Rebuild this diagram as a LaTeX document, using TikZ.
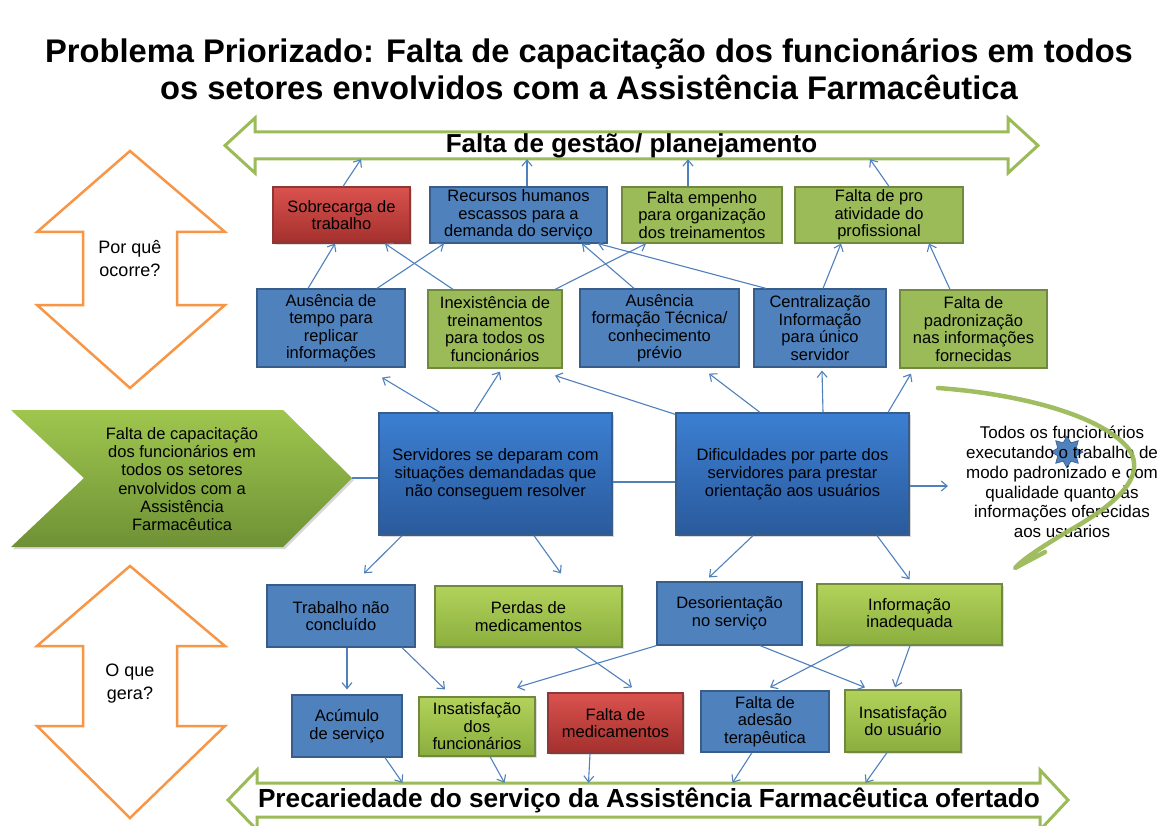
\documentclass[tikz,border=0pt]{standalone}
\usepackage{fontspec}
\setmainfont{Liberation Sans}
\usetikzlibrary{arrows.meta,calc,shadows,shapes.geometric}
\definecolor{ofblue}{HTML}{4F81BD}
\definecolor{ofbluedk}{HTML}{385D8A}
\definecolor{ofgreen}{HTML}{9BBB59}
\definecolor{ofgreendk}{HTML}{71893F}
\definecolor{ofred}{HTML}{C0504D}
\definecolor{ofreddk}{HTML}{8C3836}
\definecolor{midtop}{HTML}{3C7FD2}
\definecolor{midbot}{HTML}{2A5A9C}
\definecolor{grtop}{HTML}{B2D25A}
\definecolor{grbot}{HTML}{8AAE3E}
\definecolor{rdtop}{HTML}{DA524E}
\definecolor{rdbot}{HTML}{A3302D}
\definecolor{chevtop}{HTML}{9FC64E}
\definecolor{chevbot}{HTML}{6F9136}
\definecolor{ofor}{HTML}{F79646}
\definecolor{lineblue}{HTML}{4F81BD}
\tikzset{
  box/.style={draw, line width=1.2pt, align=center, inner sep=1pt,
    font=\fontsize{16.5}{17.5}\selectfont},
  bluebox/.style={box, fill=ofblue, draw=ofbluedk},
  greenbox/.style={box, fill=ofgreen, draw=ofgreendk},
  greengrad/.style={box, top color=grtop, bottom color=grbot, draw=ofgreendk,
    drop shadow={opacity=0.25,shadow xshift=2pt,shadow yshift=-2pt}},
  redgrad/.style={box, top color=rdtop, bottom color=rdbot, draw=ofreddk,
    drop shadow={opacity=0.25,shadow xshift=2pt,shadow yshift=-2pt}},
  midbox/.style={box, top color=midtop, bottom color=midbot, draw=ofbluedk,
    drop shadow={opacity=0.3,shadow xshift=2pt,shadow yshift=-2pt},
    font=\fontsize{16.5}{18}\selectfont},
  conn/.style={draw=lineblue, line width=1.1pt, -{Straight Barb[length=6pt,width=10pt]}},
  link/.style={draw=lineblue, line width=1.1pt},
  bigarrow/.style={draw=ofgreen, line width=3pt, fill=white},
  orarrow/.style={draw=ofor, line width=2.5pt, fill=white},
}
\begin{document}
\begin{tikzpicture}[x=1pt,y=-1pt]
\useasboundingbox (0,0) rectangle (1166,826);
\fill[white] (0,0) rectangle (1166,826);

% title
\node[font=\fontsize{32.7}{37}\selectfont\bfseries, align=center] (title) at (589,69)
  {Problema Priorizado: Falta de capacitação dos funcionários em todos\\os setores envolvidos com a Assistência Farmacêutica};

% top double arrow
\draw[bigarrow] (225,145.5) -- (255,118) -- (255,132) -- (1008,132) -- (1008,118) -- (1038,145.5)
  -- (1008,173) -- (1008,159) -- (255,159) -- (255,173) -- cycle;
\node[minimum width=753pt, minimum height=27pt, inner sep=0pt,
  font=\fontsize{26}{28}\selectfont\bfseries] (gestao) at (631.5,145.5) {Falta de gestão/ planejamento};

% bottom double arrow
\draw[bigarrow] (228,800) -- (257,770) -- (257,783) -- (1040,783) -- (1040,770) -- (1068,800)
  -- (1040,830) -- (1040,817) -- (257,817) -- (257,830) -- cycle;
\node[minimum width=783pt, minimum height=34pt, inner sep=0pt,
  font=\fontsize{26.2}{28}\selectfont\bfseries] (prec) at (649,800) {Precariedade do serviço da Assistência Farmacêutica ofertado};

% orange arrows
\draw[orarrow] (130,151) -- (225,232) -- (177,232) -- (177,305) -- (225,305) -- (130,388)
  -- (37,305) -- (83,305) -- (83,232) -- (37,232) -- cycle;
\node[align=center, font=\fontsize{18}{23}\selectfont] (porque) at (130,259) {Por quê\\ocorre?};
\draw[orarrow] (130,566) -- (225,646) -- (177,646) -- (177,726) -- (225,726) -- (130,818)
  -- (37,726) -- (83,726) -- (83,646) -- (37,646) -- cycle;
\node[align=center, font=\fontsize{18}{23}\selectfont] (oque) at (130,684) {O que\\gera?};

% chevron
\path[top color=chevtop, bottom color=chevbot, drop shadow={opacity=0.3,shadow xshift=2pt,shadow yshift=-2pt}]
  (11,410) -- (283,410) -- (352,478) -- (283,547) -- (11,547) -- (84,478) -- cycle;
\node[align=center, font=\fontsize{16.5}{18.3}\selectfont, inner sep=0pt] (chev) at (182,479)
  {Falta de capacitação\\dos funcionários em\\todos os setores\\envolvidos com a\\Assistência\\Farmacêutica};
\coordinate (chevtip) at (352,478);

% row 1
\node[redgrad, minimum width=137pt, minimum height=56pt] (sob) at (341.5,215) {Sobrecarga de\\trabalho};
\node[bluebox, minimum width=177pt, minimum height=56pt] (rec) at (518.5,215) {Recursos humanos\\escassos para a\\demanda do serviço};
\node[greenbox, minimum width=160pt, minimum height=56pt] (emp) at (702,215) {Falta empenho\\para organização\\dos treinamentos};
\node[greenbox, minimum width=168pt, minimum height=56pt] (pro) at (879,215) {Falta de pro\\atividade do\\profissional};

% row 2
\node[bluebox, minimum width=148pt, minimum height=78pt] (aus) at (331,328) {Ausência de\\tempo para\\replicar\\informações};
\node[greenbox, minimum width=134pt, minimum height=78pt] (inex) at (495,329) {Inexistência de\\treinamentos\\para todos os\\funcionários};
\node[bluebox, minimum width=159pt, minimum height=78pt] (form) at (659.5,328) {Ausência\\formação Técnica/\\conhecimento\\prévio};
\node[bluebox, minimum width=132pt, minimum height=78pt] (cent) at (820,328) {Centralização\\Informação\\para único\\servidor};
\node[greenbox, minimum width=147pt, minimum height=78pt] (padr) at (973.5,329) {Falta de\\padronização\\nas informações\\fornecidas};

% middle
\node[midbox, minimum width=233pt, minimum height=122pt] (serv) at (495.5,474) {Servidores se deparam com\\situações demandadas que\\não conseguem resolver};
\node[midbox, minimum width=233pt, minimum height=122pt] (dif) at (792.5,474) {Dificuldades por parte dos\\servidores para prestar\\orientação aos usuários};

% right text
\node[star, star points=8, star point ratio=1.6, minimum size=32pt, inner sep=0pt,
  fill=ofblue, draw=ofbluedk, line width=0.6pt] (star) at (1067,452) {};
\node[align=center, font=\fontsize{17}{19.8}\selectfont, inner sep=0pt] (meta) at (1062,482)
  {Todos os funcionários\\executando o trabalho de\\modo padronizado e com\\qualidade quanto às\\informações oferecidas\\aos usuários};
\draw[ofgreen, line width=4.5pt, line cap=round, line join=round, opacity=0.95]
  (938,388) .. controls (1020,394) and (1100,415) .. (1128,448)
  .. controls (1150,478) and (1110,508) .. (1065,533)
  .. controls (1040,548) and (1022,560) .. (1015,568)
  -- (1045,552);
\coordinate (metain) at (948,486);

% row 3
\node[bluebox, minimum width=148pt, minimum height=62pt] (trab) at (341,616) {Trabalho não\\concluído};
\node[greengrad, minimum width=187pt, minimum height=61pt] (perd) at (528.5,616.5) {Perdas de\\medicamentos};
\node[bluebox, minimum width=145pt, minimum height=63pt] (deso) at (729.5,613.5) {Desorientação\\no serviço};
\node[greengrad, minimum width=185pt, minimum height=61pt] (info) at (909.5,614.5) {Informação\\inadequada};

% row 4
\node[bluebox, minimum width=110pt, minimum height=62pt] (acu) at (347,726) {Acúmulo\\de serviço};
\node[greengrad, minimum width=116pt, minimum height=59pt] (insf) at (477,726.5) {Insatisfação\\dos\\funcionários};
\node[redgrad, minimum width=135pt, minimum height=60pt] (fmed) at (615.5,723) {Falta de\\medicamentos};
\node[bluebox, minimum width=128pt, minimum height=61pt] (fade) at (765,721.5) {Falta de\\adesão\\terapêutica};
\node[greengrad, minimum width=116pt, minimum height=62pt] (insu) at (903,721) {Insatisfação\\do usuário};

% row 1 -> top arrow
\draw[conn] ($(sob.north)+(1.5,0)$) -- ($(gestao.south)+(-270.5,0)$);
\draw[conn] ($(rec.north)+(8.5,0)$) -- ($(gestao.south)+(-104.5,0)$);
\draw[conn] ($(emp.north)+(-14,0)$) -- ($(gestao.south)+(56.5,0)$);
\draw[conn] ($(pro.north)+(10,0)$) -- ($(gestao.south)+(238.5,0)$);

% row 2 -> row 1
\draw[conn] ($(aus.north)+(-23,0)$) -- ($(sob.south)+(-6.5,0)$);
\draw[conn] ($(aus.north)+(46,0)$) -- ($(rec.south)+(-74.5,0)$);
\draw[conn] ($(inex.north)+(-42,0)$) -- ($(sob.south)+(43.5,0)$);
\draw[conn] ($(inex.north)+(60,0)$) -- ($(emp.south)+(-56,0)$);
\draw[conn] ($(form.north)+(-25.5,0)$) -- ($(rec.south)+(63.5,0)$);
\draw[conn] ($(cent.north)+(-54,0)$) -- ($(rec.south)+(79.5,0)$);
\draw[conn] ($(cent.north)+(3,0)$) -- ($(pro.south)+(-38,0)$);
\draw[conn] ($(padr.north)+(-23.5,0)$) -- ($(pro.south)+(50,0)$);

% middle -> row 2
\draw[conn] ($(serv.north)+(-55.5,0)$) -- ($(aus.south)+(51,10)$);
\draw[conn] ($(serv.north)+(-21.5,0)$) -- ($(inex.south)+(5,3)$);
\draw[conn] ($(dif.north west)+(0,2)$) -- ($(inex.south)+(60,7)$);
\draw[conn] ($(dif.north)+(-32.5,0)$) -- ($(form.south)+(49.5,6)$);
\draw[conn] ($(dif.north)+(30.5,0)$) -- ($(cent.south)+(2,3)$);
\draw[conn] ($(dif.north)+(95.5,0)$) -- ($(padr.south)+(-62.5,5)$);

% horizontal links
\draw[link] (chevtip) -- (serv.west |- chevtip);
\draw[link] ($(serv.east)+(0,8)$) -- ($(dif.west)+(0,8)$);
\draw[conn] (dif.east |- metain) -- (metain);

% middle -> row 3
\draw[conn] ($(serv.south)+(-93.5,0)$) -- ($(trab.north)+(23,-11)$);
\draw[conn] ($(serv.south)+(38.5,0)$) -- ($(perd.north)+(32.5,-12)$);
\draw[conn] ($(dif.south)+(-39.5,0)$) -- ($(deso.north)+(-20.5,-4)$);
\draw[conn] ($(dif.south)+(84.5,0)$) -- ($(info.north)+(0,-4)$);

% row 3 -> row 4
\draw[conn] ($(trab.south)+(6,0)$) -- ($(acu.north)+(0,-5)$);
\draw[conn] ($(trab.south)+(61,0)$) -- ($(insf.north)+(-32,-7)$);
\draw[conn] (deso.south west) -- ($(insf.north)+(40,-9)$);
\draw[conn] ($(perd.south)+(46.5,0)$) -- ($(fmed.north)+(16.5,-5)$);
\draw[conn] ($(deso.south)+(30.5,0)$) -- ($(insu.north)+(-38,-2)$);
\draw[conn] ($(info.south)+(-59.5,0)$) -- ($(fade.north)+(5,-3)$);
\draw[conn] ($(info.south)+(0.5,0)$) -- ($(insu.north)+(-8,-2)$);

% row 4 -> bottom arrow
\draw[conn] ($(acu.south)+(38,0)$) -- ($(prec.north)+(-246.5,0)$);
\draw[conn] ($(insf.south)+(13,0)$) -- ($(prec.north)+(-144.5,0)$);
\draw[conn] ($(fmed.south)+(-25.5,0)$) -- ($(prec.north)+(-60.5,0)$);
\draw[conn] ($(fade.south)+(-13,0)$) -- ($(prec.north)+(83.5,0)$);
\draw[conn] ($(insu.south)+(-16,0)$) -- ($(prec.north)+(216.5,0)$);
\end{tikzpicture}
\end{document}
